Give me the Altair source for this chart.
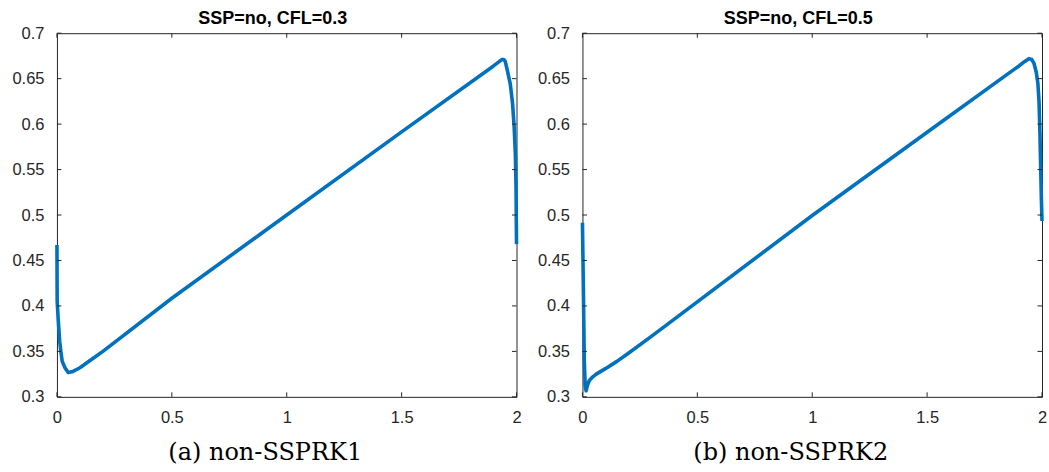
import altair as alt
import pandas as pd

# Solution profiles u(x) at the final time, one per time integrator
x_rk1 = [0.0, 0.001, 0.006, 0.012, 0.017, 0.023, 0.035, 0.049, 0.07, 0.1, 0.15, 0.2,
         0.5, 1.0, 1.5, 1.9, 1.936, 1.945, 1.951, 1.961, 1.973, 1.983, 1.99, 1.995,
         1.998, 2.0]
u_rk1 = [0.467, 0.405, 0.383, 0.361, 0.35, 0.339, 0.332, 0.3267, 0.328, 0.332, 0.341,
         0.35, 0.4085, 0.5, 0.5915, 0.664, 0.671, 0.671, 0.669, 0.658, 0.644, 0.622,
         0.596, 0.567, 0.53, 0.468]

x_rk2 = [0.0, 0.004, 0.008, 0.012, 0.016, 0.022, 0.03, 0.045, 0.06, 0.1, 0.15, 0.2,
         0.3, 1.0, 1.5, 1.85, 1.9, 1.925, 1.943, 1.955, 1.965, 1.975, 1.982, 1.987,
         1.991, 1.994, 1.997, 2.0]
u_rk2 = [0.4915, 0.42, 0.34, 0.312, 0.3066, 0.313, 0.318, 0.322, 0.325, 0.331, 0.339,
         0.348, 0.3665, 0.4995, 0.591, 0.655, 0.664, 0.669, 0.672, 0.671, 0.667, 0.657,
         0.645, 0.625, 0.59, 0.555, 0.52, 0.4934]

x_ticks = [0, 0.5, 1, 1.5, 2]
y_ticks = [0.3, 0.35, 0.4, 0.45, 0.5, 0.55, 0.6, 0.65, 0.7]
titles = ["SSP=no, CFL=0.3", "SSP=no, CFL=0.5"]
captions = ["(a) non-SSPRK1", "(b) non-SSPRK2"]

W, H = 460, 364
AXIS_COLOR = "#262626"
LINE_COLOR = "#0072BD"
TICK_LEN = 4.5
SANS = "Liberation Sans"


def panel(xs, us, title, caption):
    df = pd.DataFrame({"x": xs, "u": us, "i": list(range(len(xs)))})
    xt = pd.DataFrame({"x": x_ticks})
    yt = pd.DataFrame({"u": y_ticks})
    xscale = alt.Scale(domain=[0, 2], nice=False, zero=False)
    yscale = alt.Scale(domain=[0.3, 0.7], nice=False, zero=False)

    x_axis = alt.Axis(
        values=x_ticks, format="~g", ticks=False, tickSize=0, domain=False,
        grid=False, labelPadding=13, labelFont=SANS, labelFontSize=16.5,
        labelColor=AXIS_COLOR, labelFlush=False,
        title=caption, titleFont="DejaVu Serif", titleFontSize=24,
        titleFontWeight="normal", titleColor="black", titleX=208,
        titleY=63, titleAlign="center", titleBaseline="alphabetic")
    y_axis = alt.Axis(
        values=y_ticks, format="~g", ticks=False, tickSize=0, domain=False,
        grid=False, labelPadding=13, labelFont=SANS, labelFontSize=16.5,
        labelColor=AXIS_COLOR, title=None)

    line = alt.Chart(df).mark_line(
        color=LINE_COLOR, strokeWidth=3.6, strokeJoin="round"
    ).encode(
        x=alt.X("x:Q", scale=xscale, axis=x_axis),
        y=alt.Y("u:Q", scale=yscale, axis=y_axis),
        order="i:Q",
    )

    # inward tick marks on all four sides of the box
    tick = dict(color=AXIS_COLOR, strokeWidth=1)
    left = alt.Chart(yt).mark_rule(**tick).encode(
        y=alt.Y("u:Q", scale=yscale, axis=y_axis),
        x=alt.value(0), x2=alt.value(TICK_LEN))
    right = alt.Chart(yt).mark_rule(**tick).encode(
        y=alt.Y("u:Q", scale=yscale, axis=y_axis),
        x=alt.value(W - TICK_LEN), x2=alt.value(W))
    bottom = alt.Chart(xt).mark_rule(**tick).encode(
        x=alt.X("x:Q", scale=xscale, axis=x_axis),
        y=alt.value(H - TICK_LEN), y2=alt.value(H))
    top = alt.Chart(xt).mark_rule(**tick).encode(
        x=alt.X("x:Q", scale=xscale, axis=x_axis),
        y=alt.value(0), y2=alt.value(TICK_LEN))

    return alt.layer(line, left, right, bottom, top).properties(
        width=W, height=H,
        title=alt.TitleParams(
            title, font=SANS, fontSize=18, fontWeight="bold", color="black",
            anchor="middle", dx=-14, offset=-17, baseline="alphabetic"),
    )


chart = alt.hconcat(
    panel(x_rk1, u_rk1, titles[0], captions[0]),
    panel(x_rk2, u_rk2, titles[1], captions[1]),
    spacing=66, bounds="flush",
).properties(
    padding={"left": 11, "top": 9, "right": 1, "bottom": 8},
    background="white",
).configure_view(stroke=AXIS_COLOR, strokeWidth=1)

chart.save("out.html", embed_options={"renderer": "svg", "actions": False})
